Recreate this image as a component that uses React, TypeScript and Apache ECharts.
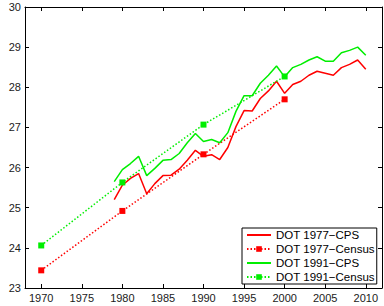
import React, { useEffect, useRef } from "react";
import * as echarts from "echarts";

const cpsYears = [1979, 1980, 1981, 1982, 1983, 1984, 1985, 1986, 1987, 1988, 1989, 1990, 1991, 1992, 1993, 1994, 1995, 1996, 1997, 1998, 1999, 2000, 2001, 2002, 2003, 2004, 2005, 2006, 2007, 2008, 2009, 2010];
const dot1977Cps = [25.2, 25.56, 25.73, 25.85, 25.35, 25.6, 25.8, 25.81, 25.96, 26.18, 26.43, 26.28, 26.32, 26.2, 26.5, 27.02, 27.42, 27.41, 27.72, 27.91, 28.15, 27.85, 28.07, 28.15, 28.3, 28.4, 28.35, 28.3, 28.49, 28.57, 28.68, 28.45];
const dot1991Cps = [25.65, 25.95, 26.1, 26.28, 25.8, 25.98, 26.18, 26.2, 26.35, 26.62, 26.85, 26.65, 26.7, 26.62, 26.87, 27.4, 27.79, 27.79, 28.1, 28.3, 28.53, 28.26, 28.49, 28.57, 28.68, 28.76, 28.65, 28.65, 28.86, 28.92, 29.0, 28.8];
const censusYears = [1970, 1980, 1990, 2000];
const dot1977Census = [23.44, 24.92, 26.33, 27.7];
const dot1991Census = [24.06, 25.63, 27.07, 28.27];
const xTicks = [1970, 1975, 1980, 1985, 1990, 1995, 2000, 2005, 2010];
const seriesNames = ["DOT 1977\u2212CPS", "DOT 1977\u2212Census", "DOT 1991\u2212CPS", "DOT 1991\u2212Census"];

const RED = "#ff0000";
const GREEN = "#00ee00";

export default function App() {
  const ref = useRef<HTMLDivElement>(null);
  useEffect(() => {
    if (!ref.current) return;
    const chart = echarts.init(ref.current, null, { renderer: "svg" });
    const font = "Liberation Sans, Arial, Helvetica, sans-serif";
    const pairs = (xs: number[], ys: number[]) => xs.map((x, i) => [x, ys[i]]);
    const axisLine = { show: true, lineStyle: { color: "#000", width: 1 } };
    const xAxisBase = {
      type: "value" as const,
      min: 1968,
      max: 2012,
      axisLine,
      splitLine: { show: false },
      axisTick: { show: true, inside: true, length: 4, customValues: xTicks, lineStyle: { color: "#000" } },
    };
    const yAxisBase = {
      type: "value" as const,
      min: 23,
      max: 30,
      interval: 1,
      axisLine,
      splitLine: { show: false },
      axisTick: { show: true, inside: true, length: 4, lineStyle: { color: "#000" } },
    };
    const hideSymbol = { itemStyle: { opacity: 0 } };
    chart.setOption({
      animation: false,
      backgroundColor: "#fff",
      grid: { left: 25, right: 2, top: 7, bottom: 18, containLabel: false },
      xAxis: [
        {
          ...xAxisBase,
          position: "bottom",
          axisLabel: { customValues: xTicks, formatter: (v: number) => String(v), fontSize: 11, color: "#1a1a1a", fontFamily: font, margin: 4 },
        },
        { ...xAxisBase, position: "top", axisLabel: { show: false } },
      ],
      yAxis: [
        { ...yAxisBase, position: "left", axisLabel: { fontSize: 11, color: "#1a1a1a", fontFamily: font, margin: 4 } },
        { ...yAxisBase, position: "right", axisLabel: { show: false } },
      ],
      legend: {
        orient: "vertical",
        left: 242,
        bottom: 22,
        padding: [1, 2, 1, 4],
        itemGap: 2,
        itemWidth: 24,
        itemHeight: 7,
        backgroundColor: "#fff",
        borderColor: "#000",
        borderWidth: 1,
        borderRadius: 0,
        textStyle: { fontSize: 11.5, lineHeight: 12, color: "#000", fontFamily: font },
        data: [
          { name: seriesNames[0], ...hideSymbol },
          { name: seriesNames[1] },
          { name: seriesNames[2], ...hideSymbol },
          { name: seriesNames[3] },
        ],
      },
      series: [
        {
          name: seriesNames[0],
          type: "line",
          data: pairs(cpsYears, dot1977Cps),
          showSymbol: false,
          symbol: "none",
          lineStyle: { color: RED, width: 1.5 },
          itemStyle: { color: RED },
        },
        {
          name: seriesNames[1],
          type: "line",
          data: pairs(censusYears, dot1977Census),
          symbol: "rect",
          symbolSize: 6,
          lineStyle: { color: RED, width: 1.5, type: [1.5, 2] },
          itemStyle: { color: RED },
        },
        {
          name: seriesNames[2],
          type: "line",
          data: pairs(cpsYears, dot1991Cps),
          showSymbol: false,
          symbol: "none",
          lineStyle: { color: GREEN, width: 1.5 },
          itemStyle: { color: GREEN },
        },
        {
          name: seriesNames[3],
          type: "line",
          data: pairs(censusYears, dot1991Census),
          symbol: "rect",
          symbolSize: 6,
          lineStyle: { color: GREEN, width: 1.5, type: [1.5, 2] },
          itemStyle: { color: GREEN },
        },
      ],
    });
    return () => chart.dispose();
  }, []);
  return <div ref={ref} style={{ position: "absolute", left: 0, top: 0, width: 384, height: 306 }} />;
}
